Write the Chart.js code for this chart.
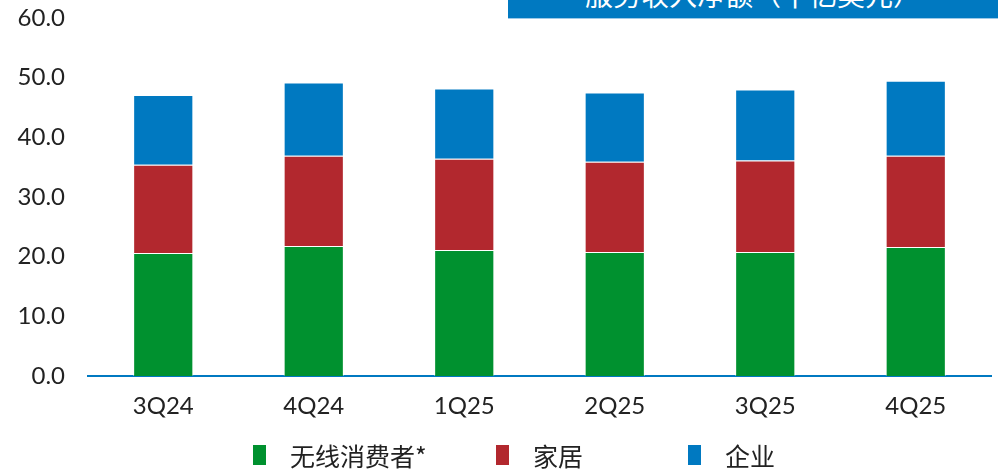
<!DOCTYPE html>
<html>
<head>
<meta charset="utf-8">
<script src="https://cdn.jsdelivr.net/npm/chart.js@4"></script>
<style>
  html, body { margin: 0; padding: 0; background: #fff; overflow: hidden; }
  #wrap { position: relative; width: 998px; height: 471px; }
  #title {
    position: absolute; left: 508px; top: -22px; width: 490px; height: 40px;
    background: #0079C1; border-bottom: 1px solid #9cc9e8;
    color: #fff; font: 28px "Noto Sans CJK SC", sans-serif; line-height: 32px;
    text-align: center; z-index: 2; overflow: hidden;
  }
  #legend {
    position: absolute; top: 438px; left: 0; width: 998px; height: 33px;
    font: 25px "Noto Sans CJK SC", sans-serif; color: #222;
  }
  #legend .item { position: absolute; top: 0; display: flex; align-items: center; height: 33px; }
  #legend .box { width: 13px; height: 20px; margin-right: 24px; }
</style>
</head>
<body>
<div id="wrap">
  <div id="title">服务收入净额（十亿美元）</div>
  <canvas id="chart" width="998" height="471"></canvas>
  <div id="legend"></div>
</div>
<script>
// quarterly service revenue, billions USD
const quarters = ['3Q24', '4Q24', '1Q25', '2Q25', '3Q25', '4Q25'];
const wirelessConsumer = [20.6, 21.8, 21.1, 20.8, 20.8, 21.6];
const home = [14.8, 15.1, 15.3, 15.1, 15.3, 15.3];
const enterprise = [11.7, 12.3, 11.8, 11.6, 11.9, 12.6];
const yTicks = [0, 10, 20, 30, 40, 50, 60];

const seriesNames = ['无线消费者*', '家居', '企业'];
const seriesColors = ['#00912F', '#B2282E', '#0079C1'];
const legendLeft = [253, 496, 688];

function dataset(i, values) {
    return {
        label: seriesNames[i],
        data: values,
        backgroundColor: seriesColors[i],
        borderColor: 'rgba(255,255,255,0.5)',
        borderWidth: 1,
        barPercentage: 0.4,
        categoryPercentage: 1.0
    };
}

const tickFont = { family: 'Lato, "DejaVu Sans", sans-serif', size: 24 };

new Chart(document.getElementById('chart'), {
    type: 'bar',
    data: {
        labels: quarters,
        datasets: [
            dataset(0, wirelessConsumer),
            dataset(1, home),
            dataset(2, enterprise)
        ]
    },
    options: {
        responsive: false,
        animation: false,
        layout: { padding: { top: 18, right: 7, left: 0, bottom: 0 } },
        plugins: {
            legend: { display: false },
            tooltip: { enabled: false }
        },
        scales: {
            x: {
                stacked: true,
                grid: { display: false, drawTicks: false },
                border: { display: true, color: '#0079C1', width: 2 },
                ticks: { color: '#222', font: tickFont, padding: 16 },
                afterFit(scale) { scale.height = 95; }
            },
            y: {
                stacked: true,
                min: 0,
                max: 60,
                grid: { display: false, drawTicks: false },
                border: { display: false },
                afterBuildTicks(scale) { scale.ticks = yTicks.map(v => ({ value: v })); },
                ticks: {
                    color: '#222',
                    font: tickFont,
                    padding: 23,
                    callback: v => v.toFixed(1)
                },
                afterFit(scale) {
                    scale.width = 88;
                    scale.paddingTop = 0;
                    scale.paddingBottom = 0;
                }
            }
        }
    }
});

// legend with the same spacing as the original slide
const legendDiv = document.getElementById('legend');
seriesNames.forEach((name, i) => {
    const item = document.createElement('div');
    item.className = 'item';
    item.style.left = legendLeft[i] + 'px';
    const box = document.createElement('span');
    box.className = 'box';
    box.style.background = seriesColors[i];
    item.appendChild(box);
    item.appendChild(document.createTextNode(name));
    legendDiv.appendChild(item);
});
</script>
</body>
</html>
